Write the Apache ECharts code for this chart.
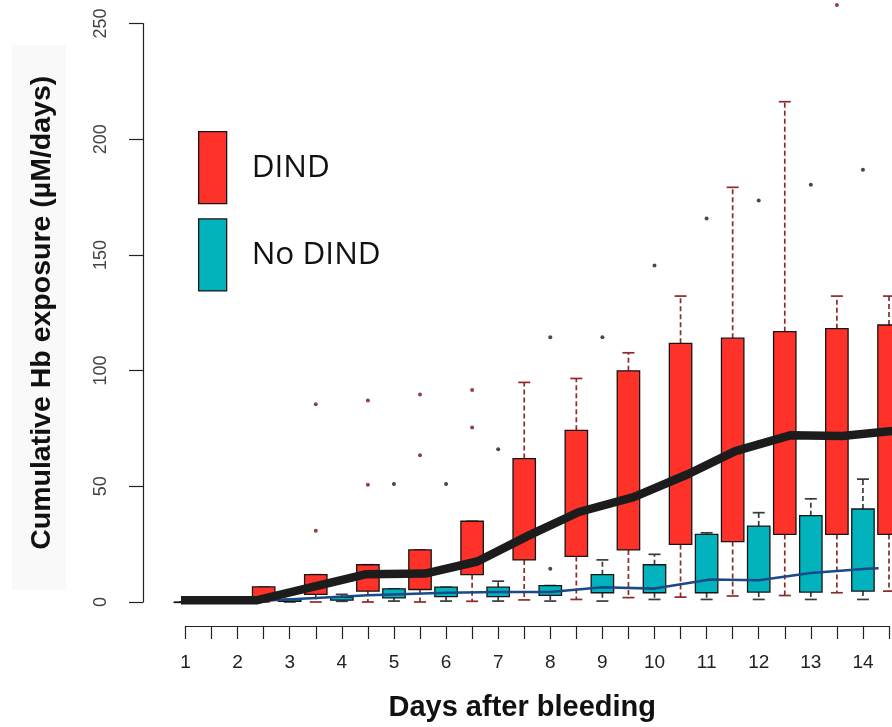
<!DOCTYPE html>
<html><head><meta charset="utf-8">
<script src="https://cdn.jsdelivr.net/npm/echarts@6/dist/echarts.min.js"></script>
<style>html,body{margin:0;padding:0;background:#fff}#c{width:892px;height:727px}</style>
</head><body><div id="c"></div>
<script>
// ---- DATA ----
const dayLabels = [1,2,3,4,5,6,7,8,9,10,11,12,13,14];
const yTicks = [0,50,100,150,200,250];

// DIND boxes (positioned between days)
const dindPos = [1.5,2.5,3.5,4.5,5.5,6.5,7.5,8.5,9.5,10.5,11.5,12.5,13.5,14.5];
const dindMin = [0, 0, 0, 0, 0, 0.3, 0.9, 1.1, 1.9, 2.1, 2.6, 2.8, 4.0, 4.7];
const dindQ1  = [0, 1.5, 3.3, 4.7, 5.4, 11.8, 18.2, 19.7, 22.5, 24.9, 26.1, 29.2, 29.2, 29.2];
const dindQ3  = [0.3, 6.5, 11.8, 16.1, 22.5, 34.9, 62.0, 74.2, 99.9, 111.8, 114.0, 116.8, 118.1, 119.7];
const dindMax = [0.3, 6.5, 11.8, 16.1, 22.5, 34.9, 94.9, 96.6, 107.7, 132.2, 179.2, 216.2, 132.2, 132.2];
const dindOutX = [3.5, 3.5, 4.5, 4.5, 5.5, 5.5, 6.5, 6.5, 13.5];
const dindOutY = [85.5, 30.8, 87.1, 50.7, 89.7, 63.4, 91.6, 75.4, 258];

// No DIND boxes (on days)
const noPos = [1,2,3,4,5,6,7,8,9,10,11,12,13,14];
const noMin = [0, 0, 0, 0.3, 0.4, 0.4, 0.4, 0.4, 0.4, 1.1, 1.1, 1.1, 1.1, 1.1];
const noQ1  = [0, 0, 0.3, 0.8, 1.8, 2.3, 2.3, 2.9, 4.0, 4.0, 4.0, 4.3, 4.3, 4.7];
const noQ3  = [0, 0, 1.0, 2.0, 5.7, 6.4, 6.4, 7.1, 11.8, 16.1, 29.2, 32.8, 37.3, 40.2];
const noMax = [0, 0, 1.2, 3.3, 5.7, 6.4, 9.0, 7.1, 18.2, 20.6, 29.9, 38.6, 44.6, 53.1];
const noOutX = [5, 6, 7, 8, 8, 9, 10, 11, 12, 13, 14];
const noOutY = [51, 51, 66, 14.4, 114.4, 114.4, 145.4, 165.7, 173.5, 180.3, 186.8];

// Trend lines
const dindLineX = [0.78, 2.38, 4.47, 5.6, 6.6, 7.6, 8.55, 9.6, 10.65, 11.55, 12.62, 13.6, 14.6];
const dindLineY = [0.8, 0.8, 12.0, 12.3, 17.5, 28.9, 38.9, 45.3, 55.3, 65.2, 72.1, 71.7, 74.0];
const noLineX = [2.4, 4.5, 6.0, 7, 8, 9, 10, 11.07, 12, 13, 14.07, 14.3];
const noLineY = [0.4, 2.9, 4.0, 4.3, 4.3, 6.4, 5.8, 9.7, 9.4, 12.5, 14.4, 14.6];

// ---- CHART ----
const RED = '#fe3229', CYAN = '#02b2bd';
const zip = (a, b) => a.map((v, i) => [v, b[i]]);
const boxData = (p, mn, q1, q3, mx) => p.map((v, i) => [v, mn[i], q1[i], q3[i], mx[i]]);

function boxRender(fill, whisk) {
  return function (params, api) {
    const x = api.value(0);
    const pMin = api.coord([x, api.value(1)]);
    const pQ1 = api.coord([x, api.value(2)]);
    const pQ3 = api.coord([x, api.value(3)]);
    const pMax = api.coord([x, api.value(4)]);
    const w = api.size([0.43, 0])[0];
    const cx = pMin[0];
    const cap = 6;
    const dash = {stroke: whisk, lineWidth: 1.7, lineDash: [5, 3]};
    const solid = {stroke: whisk, lineWidth: 1.7};
    return {
      type: 'group',
      children: [
        {type: 'line', shape: {x1: cx, y1: pQ3[1], x2: cx, y2: pMax[1]}, style: dash},
        {type: 'line', shape: {x1: cx, y1: pQ1[1], x2: cx, y2: pMin[1]}, style: dash},
        {type: 'line', shape: {x1: cx - cap, y1: pMax[1], x2: cx + cap, y2: pMax[1]}, style: solid},
        {type: 'line', shape: {x1: cx - cap, y1: pMin[1], x2: cx + cap, y2: pMin[1]}, style: solid},
        {type: 'rect', shape: {x: cx - w / 2, y: pQ3[1], width: w, height: Math.max(pQ1[1] - pQ3[1], 0.5)},
         style: {fill: fill, stroke: '#151515', lineWidth: 1.3}}
      ]
    };
  };
}

const chart = echarts.init(document.getElementById('c'), null, {renderer: 'canvas'});
chart.setOption({
  animation: false,
  backgroundColor: '#fff',
  graphic: [{type: 'rect', left: 12, top: 45, shape: {width: 54, height: 545}, style: {fill: '#f9f9f9'}, z: -10}],
  grid: {left: 185.5, right: -3.6, top: 23.5, bottom: 121},
  legend: {
    orient: 'vertical', left: 193, top: 126, itemWidth: 28, itemHeight: 72, itemGap: 14,
    selectedMode: false,
    textStyle: {fontFamily: 'Open Sans', fontSize: 31.5, color: '#111', padding: [0, 0, 0, 20]},
    data: [
      {name: 'DIND', icon: 'rect', itemStyle: {color: RED, borderColor: '#151515', borderWidth: 1.3}},
      {name: 'No DIND', icon: 'rect', itemStyle: {color: CYAN, borderColor: '#151515', borderWidth: 1.3}}
    ]
  },
  xAxis: {
    type: 'value', min: 1, max: 14.5, interval: 0.5, offset: 24,
    axisLine: {onZero: false, lineStyle: {color: '#222', width: 1.2}},
    axisTick: {length: 13, lineStyle: {color: '#222', width: 1.2}},
    splitLine: {show: false},
    axisLabel: {fontFamily: 'Liberation Sans', fontSize: 19, color: '#222', margin: 27,
      formatter: v => dayLabels.includes(v) ? String(v) : ''},
    name: 'Days after bleeding', nameLocation: 'middle', nameGap: 67,
    nameTextStyle: {fontFamily: 'Liberation Sans', fontWeight: 'bold', fontSize: 29, color: '#111', padding: [0, 30, 0, 0]}
  },
  yAxis: {
    type: 'value', min: 0, max: 250, interval: 50, offset: 42.5,
    axisLine: {show: true, onZero: false, lineStyle: {color: '#222', width: 1.2}},
    axisTick: {show: true, length: 14, lineStyle: {color: '#222', width: 1.2}},
    splitLine: {show: false},
    axisLabel: {rotate: 90, fontFamily: 'Liberation Sans', fontSize: 18, color: '#444', margin: 33,
      formatter: v => yTicks.includes(v) ? String(v) : ''},
    name: 'Cumulative Hb exposure (µM/days)', nameLocation: 'middle', nameGap: 86, nameRotate: 90,
    nameTextStyle: {fontFamily: 'Liberation Sans', fontWeight: 'bold', fontSize: 28.5, color: '#111'}
  },
  series: [
    {name: 'DIND', type: 'custom', renderItem: boxRender(RED, '#8e2a2a'), itemStyle: {color: RED},
     encode: {x: 0, y: [1, 2, 3, 4]}, data: boxData(dindPos, dindMin, dindQ1, dindQ3, dindMax), z: 2},
    {name: 'No DIND', type: 'custom', renderItem: boxRender(CYAN, '#3a3a3a'), itemStyle: {color: CYAN},
     encode: {x: 0, y: [1, 2, 3, 4]}, data: boxData(noPos, noMin, noQ1, noQ3, noMax), z: 2},
    {type: 'scatter', data: zip(dindOutX, dindOutY), symbolSize: 4, clip: false,
     itemStyle: {color: '#7a1010'}, z: 3, silent: true},
    {type: 'scatter', data: zip(noOutX, noOutY), symbolSize: 4, clip: false,
     itemStyle: {color: '#1a1a1a'}, z: 3, silent: true},
    {type: 'line', data: zip(noLineX, noLineY), showSymbol: false, symbol: 'none', clip: false,
     lineStyle: {color: '#1a4a86', width: 2.6}, z: 4, silent: true},
    {type: 'line', data: zip(dindLineX, dindLineY), showSymbol: false, symbol: 'none', clip: false,
     lineStyle: {color: '#1c1c1c', width: 8.5}, z: 5, silent: true}
  ]
});
</script></body></html>
